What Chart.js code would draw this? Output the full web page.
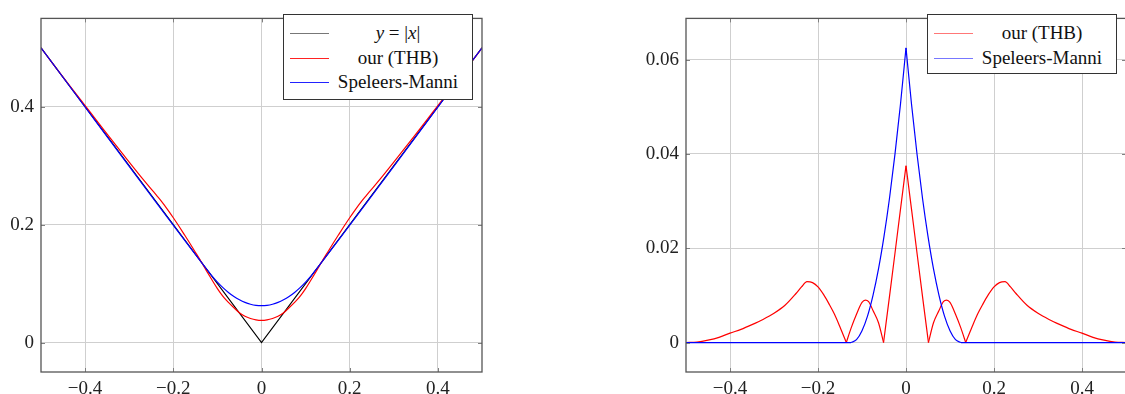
<!DOCTYPE html>
<html>
<head>
<meta charset="utf-8">
<script src="https://cdn.jsdelivr.net/npm/chart.js@4"></script>
<style>
  html, body { margin: 0; padding: 0; background: #fff; overflow: hidden; width: 1125px; height: 394px; }
  canvas { position: absolute; top: 0; }
  #leftChart { left: 0; }
  #rightChart { left: 560px; }
  .legend {
    position: absolute; background: #fff; border: 1px solid #333;
    font-family: "Liberation Serif", serif; font-size: 19px; color: #111;
  }
  .row { position: absolute; left: 0; right: 0; height: 24px; }
  .row .ln { position: absolute; left: 6px; width: 39px; top: 12px; height: 1px; }
  .row .tx { position: absolute; left: 46px; right: 6px; top: 0; line-height: 24px; text-align: center; white-space: nowrap; }
</style>
</head>
<body>
<canvas id="leftChart" width="500" height="394"></canvas>
<canvas id="rightChart" width="580" height="394"></canvas>

<div class="legend" style="left:283px; top:14px; width:188px; height:84px;">
  <div class="row" style="top:6px"><div class="ln" style="background:#777"></div><div class="tx"><i>y</i> = |<i>x</i>|</div></div>
  <div class="row" style="top:31px"><div class="ln" style="background:#f22"></div><div class="tx">our (THB)</div></div>
  <div class="row" style="top:55px"><div class="ln" style="background:#22f"></div><div class="tx">Speleers-Manni</div></div>
</div>
<div class="legend" style="left:927px; top:14px; width:188px; height:58px;">
  <div class="row" style="top:6px"><div class="ln" style="background:#f77"></div><div class="tx">our (THB)</div></div>
  <div class="row" style="top:31px"><div class="ln" style="background:#77f"></div><div class="tx">Speleers-Manni</div></div>
</div>

<script>
// tick labels
const xTicks = [-0.4, -0.2, 0, 0.2, 0.4];
const leftYTicks = [0, 0.2, 0.4];
const rightYTicks = [0, 0.02, 0.04, 0.06];

// y = |x|
const absX = [-0.5, 0, 0.5];
const absY = [0.5, 0, 0.5];

// our (THB): sample positions, approximation (left) and error (right)
const thbX = [-0.5, -0.475, -0.45, -0.425, -0.4, -0.375, -0.35, -0.325, -0.3, -0.275, -0.25, -0.2375, -0.225, -0.2125,
  -0.2, -0.1875, -0.175, -0.1625, -0.15, -0.1357, -0.125, -0.1125, -0.1, -0.0925, -0.085, -0.075, -0.0625, -0.051,
  -0.0375, -0.025, -0.0125, 0, 0.0125, 0.025, 0.0375, 0.051, 0.0625, 0.075, 0.085, 0.0925, 0.1, 0.1125, 0.125, 0.1357,
  0.15, 0.1625, 0.175, 0.1875, 0.2, 0.2125, 0.225, 0.2375, 0.25, 0.275, 0.3, 0.325, 0.35, 0.375, 0.4, 0.425, 0.45, 0.475, 0.5];
const thbY = [0.5, 0.4751, 0.4505, 0.4261, 0.402, 0.3778, 0.3538, 0.3299, 0.3062, 0.2829, 0.2604, 0.2493, 0.2379, 0.2252,
  0.2118, 0.1977, 0.1832, 0.1685, 0.1533, 0.1357, 0.122, 0.1065, 0.0915, 0.0835, 0.0763, 0.0682, 0.059, 0.051,
  0.0445, 0.0408, 0.0384, 0.0375, 0.0384, 0.0408, 0.0445, 0.051, 0.059, 0.0682, 0.0763, 0.0835, 0.0915, 0.1065, 0.122, 0.1357,
  0.1533, 0.1685, 0.1832, 0.1977, 0.2118, 0.2252, 0.2379, 0.2493, 0.2604, 0.2829, 0.3062, 0.3299, 0.3538, 0.3778, 0.402, 0.4261, 0.4505, 0.4751, 0.5];
const thbErr = [0, 0.0001, 0.0005, 0.0011, 0.002, 0.0028, 0.0038, 0.0049, 0.0062, 0.0079, 0.0104, 0.0118, 0.0129, 0.0127,
  0.0118, 0.0102, 0.0082, 0.006, 0.0033, 0, 0.003, 0.006, 0.0085, 0.009, 0.0087, 0.0068, 0.0042, 0,
  0.0098, 0.019, 0.0283, 0.0375, 0.0283, 0.019, 0.0098, 0, 0.0042, 0.0068, 0.0087, 0.009, 0.0085, 0.006, 0.003, 0,
  0.0033, 0.006, 0.0082, 0.0102, 0.0118, 0.0127, 0.0129, 0.0118, 0.0104, 0.0079, 0.0062, 0.0049, 0.0038, 0.0028, 0.002, 0.0011, 0.0005, 0.0001, 0];
const thbKinks = [-0.1357, -0.051, 0, 0.051, 0.1357];

// Speleers-Manni
const smX = [-0.5, -0.125, -0.1125, -0.1, -0.0875, -0.075, -0.0625, -0.05, -0.0375, -0.025, -0.0125, 0,
  0.0125, 0.025, 0.0375, 0.05, 0.0625, 0.075, 0.0875, 0.1, 0.1125, 0.125, 0.5];
const smY = [0.5, 0.125, 0.1131, 0.1025, 0.0931, 0.085, 0.0781, 0.0725, 0.0681, 0.065, 0.0631, 0.0625,
  0.0631, 0.065, 0.0681, 0.0725, 0.0781, 0.085, 0.0931, 0.1025, 0.1131, 0.125, 0.5];
const smErr = [0, 0, 0.0006, 0.0025, 0.0056, 0.01, 0.0156, 0.0225, 0.0306, 0.04, 0.0506, 0.0625,
  0.0506, 0.04, 0.0306, 0.0225, 0.0156, 0.01, 0.0056, 0.0025, 0.0006, 0, 0];
const smKinks = [-0.125, 0, 0.125];

function pts(xs, ys) {
  return xs.map((x, i) => ({ x: x, y: ys[i] }));
}

// cut a curve at its corners so each smooth piece can be drawn on its own
function pieces(xs, ys, kinks) {
  const out = [];
  let cur = [];
  xs.forEach((x, i) => {
    cur.push({ x: x, y: ys[i] });
    if (kinks.includes(x)) {
      out.push(cur);
      cur = [{ x: x, y: ys[i] }];
    }
  });
  out.push(cur);
  return out.filter(p => p.length > 1);
}

function fmt(v) {
  const s = String(Math.round(v * 1000) / 1000);
  return s.replace('-', '\u2212');
}

const tickFont = { family: 'Liberation Serif', size: 19 };

// box around plot area + small inner tick marks
const boxPlugin = {
  id: 'box',
  afterDraw(chart) {
    const a = chart.chartArea;
    const c = chart.ctx;
    c.save();
    c.strokeStyle = '#808080';
    c.lineWidth = 1;
    c.beginPath();
    chart.scales.x.ticks.forEach(t => {
      const px = Math.round(chart.scales.x.getPixelForValue(t.value)) + 0.5;
      c.moveTo(px, a.bottom); c.lineTo(px, a.bottom - 4);
      c.moveTo(px, a.top); c.lineTo(px, a.top + 4);
    });
    chart.scales.y.ticks.forEach(t => {
      const py = Math.round(chart.scales.y.getPixelForValue(t.value)) + 0.5;
      c.moveTo(a.left, py); c.lineTo(a.left + 4, py);
      c.moveTo(a.right, py); c.lineTo(a.right - 4, py);
    });
    c.stroke();
    c.strokeStyle = '#555';
    c.lineWidth = 1.3;
    c.strokeRect(a.left, a.top, a.right - a.left, a.bottom - a.top);
    c.restore();
  }
};

function series(parts, color) {
  return parts.map(p => ({ data: p, borderColor: color, borderWidth: 1.2, cubicInterpolationMode: 'monotone' }));
}

function makeChart(id, datasets, yMin, yMax, yTicks, yWidth, padRight) {
  return new Chart(document.getElementById(id), {
    type: 'line',
    data: { datasets: datasets },
    options: {
      responsive: false,
      animation: false,
      devicePixelRatio: 1,
      layout: { padding: { top: 7, right: padRight, bottom: 0, left: 0 } },
      plugins: { legend: { display: false }, tooltip: { enabled: false } },
      elements: { point: { radius: 0 }, line: { tension: 0 } },
      scales: {
        x: {
          type: 'linear', min: -0.5, max: 0.5,
          afterBuildTicks: s => { s.ticks = xTicks.map(v => ({ value: v })); },
          afterFit: s => { s.height = 22; },
          grid: { color: '#cfcfcf', drawTicks: false },
          border: { display: false },
          ticks: { font: tickFont, color: '#222', padding: 6, maxRotation: 0, callback: v => fmt(v) }
        },
        y: {
          type: 'linear', min: yMin, max: yMax,
          afterBuildTicks: s => { s.ticks = yTicks.map(v => ({ value: v })); },
          afterFit: s => { s.width = yWidth; },
          grid: { color: '#cfcfcf', drawTicks: false },
          border: { display: false },
          ticks: { font: tickFont, color: '#222', padding: 7, callback: v => fmt(v) }
        }
      }
    },
    plugins: [boxPlugin]
  });
}

// first dataset is drawn on top
makeChart('leftChart', [
  ...series(pieces(smX, smY, []), '#0000ff'),
  ...series(pieces(thbX, thbY, []), '#ff0000'),
  { label: 'y = |x|', data: pts(absX, absY), borderColor: '#000000', borderWidth: 1.2 }
], -0.05, 0.55, leftYTicks, 41, 18);

makeChart('rightChart', [
  ...series(pieces(smX, smErr, smKinks), '#0000ff'),
  ...series(pieces(thbX, thbErr, thbKinks), '#ff0000')
], -0.00625, 0.06875, rightYTicks, 126, 14);
</script>
</body>
</html>
